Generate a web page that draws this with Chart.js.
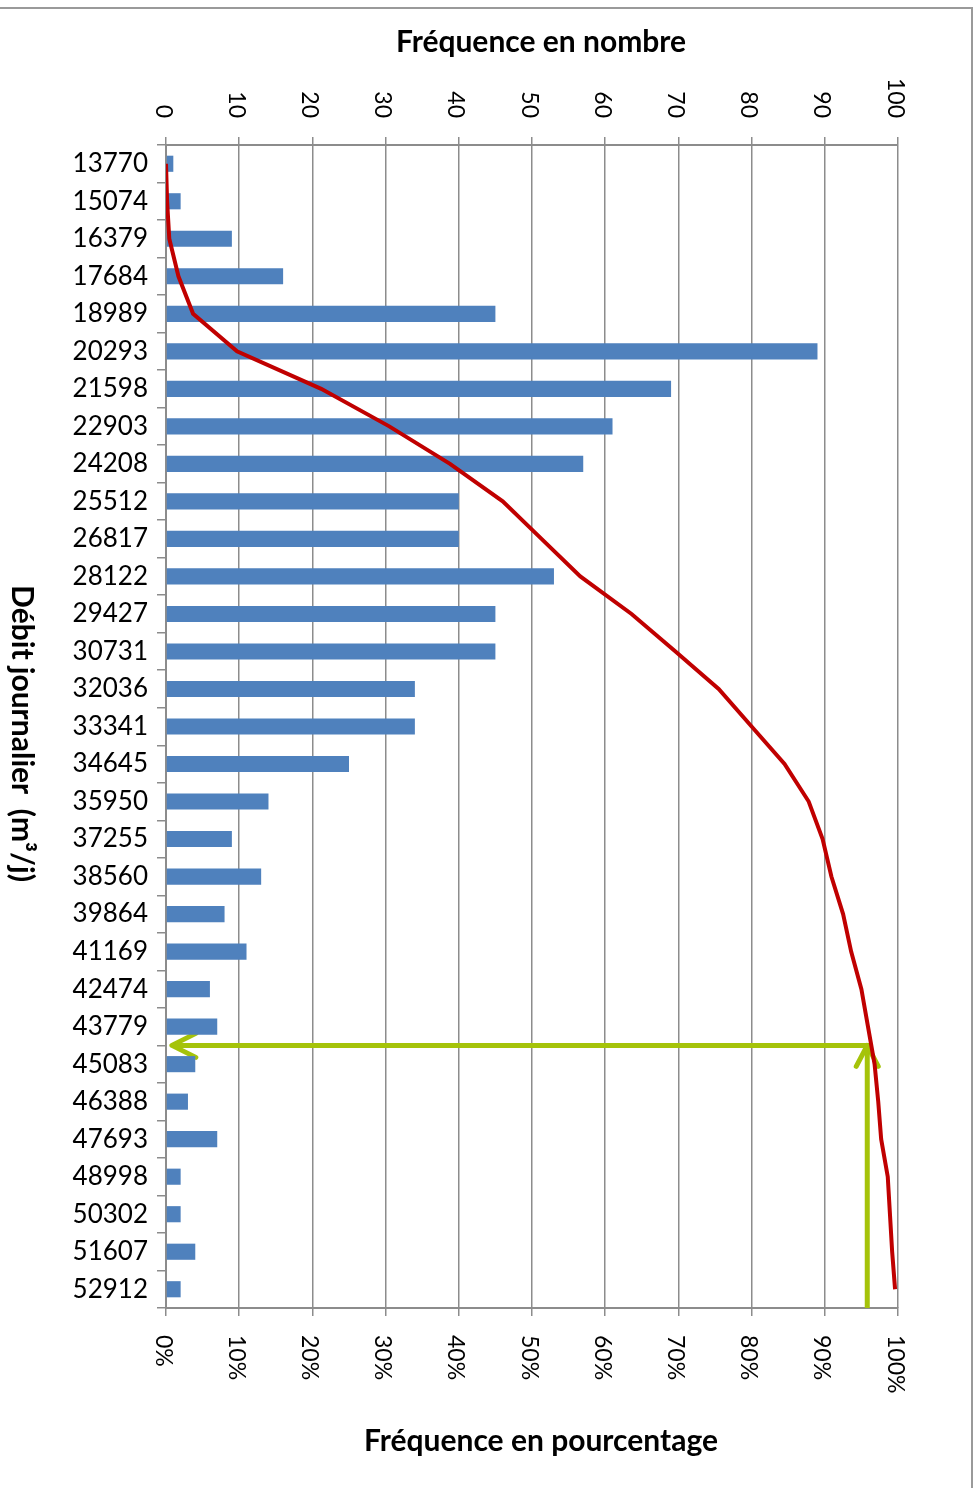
<!DOCTYPE html>
<html>
<head>
<meta charset="utf-8">
<script src="https://cdn.jsdelivr.net/npm/chart.js@4"></script>
<style>
  html, body { margin: 0; padding: 0; background: #fff; }
  canvas { display: block; }
</style>
</head>
<body>
<canvas id="graphique" width="977" height="1488"></canvas>
<script>
const debits = ['13770', '15074', '16379', '17684', '18989', '20293', '21598', '22903',
  '24208', '25512', '26817', '28122', '29427', '30731', '32036', '33341', '34645',
  '35950', '37255', '38560', '39864', '41169', '42474', '43779', '45083', '46388',
  '47693', '48998', '50302', '51607', '52912']
const frequences = [1, 2, 9, 16, 45, 89, 69, 61, 57, 40, 40, 53, 45, 45, 34, 34, 25,
  14, 9, 13, 8, 11, 6, 7, 4, 3, 7, 2, 2, 4, 2]
// courbe (en %)
const frequencesCumulees = [0, 0.15, 0.45, 1.7, 3.7, 9.7, 21.2, 30.5, 38.8, 46, 51.3,
  56.6, 63.6, 69.6, 75.5, 80, 84.5, 87.8, 89.7, 90.9, 92.5, 93.6, 95, 95.9, 96.8, 97.3,
  97.7, 98.6, 98.9, 99.2, 99.6]

const titreHaut = 'Fréquence en nombre'
const titreBas = 'Fréquence en pourcentage'
const titreGauche = 'Débit journalier  (m³/j)'

// lecture des flèches vertes : ~96 % entre 43779 et 45083
const lecturePct = 95.8
const lectureFinPct = 0.8
const lectureEntre = ['43779', '45083']

const gris = '#8c8c8c'
const police = 'Lato'

const habillage = {
  id: 'habillage',
  beforeDraw(chart) {
    const ctx = chart.ctx
    ctx.save()
    ctx.strokeStyle = '#9a9a9a'
    ctx.lineWidth = 2
    ctx.beginPath()
    ctx.moveTo(0, 8)
    ctx.lineTo(chart.width - 5, 8)
    ctx.lineTo(chart.width - 5, chart.height)
    ctx.stroke()
    ctx.restore()
  },
  beforeDatasetsDraw(chart) {
    const ctx = chart.ctx
    const x2 = chart.scales.x2
    const y = chart.scales.y
    const zone = chart.chartArea
    const xa = x2.getPixelForValue(lecturePct)
    const xb = x2.getPixelForValue(lectureFinPct)
    const ya = (y.getPixelForValue(debits.indexOf(lectureEntre[0])) +
      y.getPixelForValue(debits.indexOf(lectureEntre[1]))) / 2
    ctx.save()
    ctx.strokeStyle = '#a5c30a'
    ctx.lineWidth = 5
    ctx.beginPath()
    ctx.moveTo(xa, zone.bottom)
    ctx.lineTo(xa, ya)
    ctx.lineTo(xb, ya)
    ctx.stroke()
    ctx.lineCap = 'round'
    ctx.lineJoin = 'round'
    ctx.beginPath()
    ctx.moveTo(xa - 11, ya + 21)
    ctx.lineTo(xa, ya)
    ctx.lineTo(xa + 11, ya + 21)
    ctx.moveTo(xb + 24, ya - 12)
    ctx.lineTo(xb, ya)
    ctx.lineTo(xb + 24, ya + 12)
    ctx.stroke()
    ctx.restore()
  },
  afterDraw(chart) {
    const ctx = chart.ctx
    const zone = chart.chartArea
    const x = chart.scales.x
    const x2 = chart.scales.x2
    ctx.save()
    ctx.fillStyle = '#000'
    ctx.font = '23px ' + police
    ctx.textBaseline = 'middle'
    // graduations du haut, tournées
    x.ticks.forEach((t) => {
      ctx.save()
      ctx.translate(x.getPixelForValue(t.value) - 3, zone.top - 27)
      ctx.rotate(Math.PI / 2)
      ctx.textAlign = 'right'
      ctx.fillText(String(t.value), 0, 0)
      ctx.restore()
    })
    // graduations du bas
    x2.ticks.forEach((t) => {
      ctx.save()
      ctx.translate(x2.getPixelForValue(t.value) - 3, zone.bottom + 27)
      ctx.rotate(Math.PI / 2)
      ctx.textAlign = 'left'
      ctx.fillText(t.value + '%', 0, 0)
      ctx.restore()
    })
    // titres
    const cx = (zone.left + zone.right) / 2 + 9
    ctx.font = 'bold 30px ' + police
    ctx.textAlign = 'center'
    ctx.fillText(titreHaut, cx, 42)
    ctx.fillText(titreBas, cx, 1441)
    ctx.translate(22, (zone.top + zone.bottom) / 2 + 7)
    ctx.rotate(Math.PI / 2)
    ctx.fillText(titreGauche, 0, 0)
    ctx.restore()
  }
}

const data = {
  labels: debits,
  datasets: [{
    type: 'line',
    label: 'Fréquence cumulée',
    data: frequencesCumulees,
    xAxisID: 'x2',
    yAxisID: 'y',
    borderColor: '#c00000',
    borderWidth: 4,
    pointRadius: 0,
    fill: false,
    tension: 0,
    order: 0
  }, {
    type: 'bar',
    label: 'Fréquence',
    data: frequences,
    xAxisID: 'x',
    yAxisID: 'y',
    backgroundColor: '#4f81bd',
    categoryPercentage: 1,
    barPercentage: 0.43,
    order: 1
  }]
}

const config = {
  type: 'bar',
  data: data,
  options: {
    indexAxis: 'y',
    responsive: false,
    animation: false,
    devicePixelRatio: 1,
    layout: { padding: { left: 0, right: 79, top: 0, bottom: 0 } },
    plugins: { legend: { display: false }, tooltip: { enabled: false } },
    scales: {
      y: {
        type: 'category',
        position: 'left',
        offset: true,
        afterFit: (s) => { s.width = 166 },
        grid: { offset: true, drawOnChartArea: false, tickLength: 9, color: gris, lineWidth: 1.5 },
        border: { display: true, color: gris, width: 2 },
        ticks: { color: '#000', padding: 9, font: { family: police, size: 26 } }
      },
      x: {
        type: 'linear',
        position: 'top',
        min: 0,
        max: 100,
        afterFit: (s) => { s.height = 145 },
        ticks: { display: false, stepSize: 10 },
        grid: { color: gris, lineWidth: 1.5, tickLength: 8 },
        border: { display: true, color: gris, width: 2 }
      },
      x2: {
        type: 'linear',
        position: 'bottom',
        min: 0,
        max: 100,
        afterFit: (s) => { s.height = 180 },
        ticks: { display: false, stepSize: 10 },
        grid: { drawOnChartArea: false, color: gris, lineWidth: 1.5, tickLength: 8 },
        border: { display: true, color: gris, width: 2 }
      }
    }
  },
  plugins: [habillage]
}

const ctxGraphique = document.getElementById('graphique')

new Chart(ctxGraphique, config)
</script>
</body>
</html>
